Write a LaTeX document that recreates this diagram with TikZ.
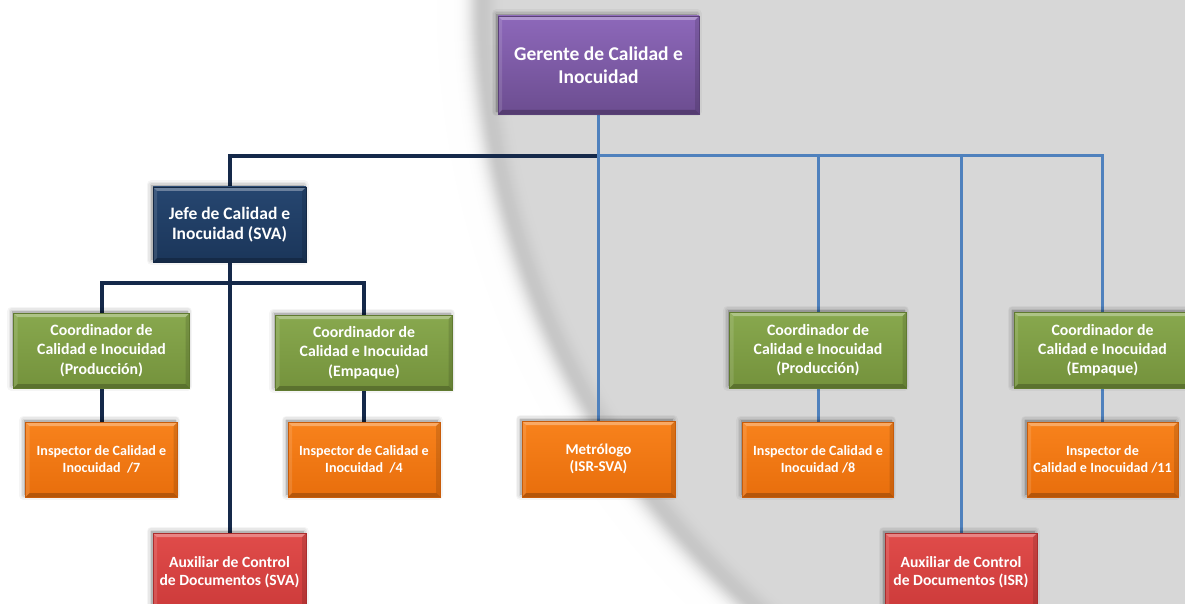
\documentclass[tikz,border=0pt]{standalone}
\usepackage{fontspec}
\setmainfont{Carlito}
\usetikzlibrary{shadows}

\definecolor{navyline}{HTML}{15294A}
\definecolor{blueline}{HTML}{4F81BD}

\pgfdeclarelayer{back}
\pgfdeclarelayer{conn}
\pgfsetlayers{back,conn,main}

\tikzset{
  bevel/.style={path picture={
    \path (path picture bounding box.north west) coordinate (bNW)
          (path picture bounding box.north east) coordinate (bNE)
          (path picture bounding box.south west) coordinate (bSW)
          (path picture bounding box.south east) coordinate (bSE);
    \fill[white,opacity=.32] (bNW) -- (bNE) -- ([xshift=-4pt,yshift=-4pt]bNE) -- ([xshift=4pt,yshift=-4pt]bNW) -- cycle;
    \fill[white,opacity=.12] (bNW) -- ([xshift=4pt,yshift=-4pt]bNW) -- ([xshift=4pt,yshift=4pt]bSW) -- (bSW) -- cycle;
    \fill[black,opacity=.12] (bNE) -- ([xshift=-4pt,yshift=-4pt]bNE) -- ([xshift=-4pt,yshift=4pt]bSE) -- (bSE) -- cycle;
    \fill[black,opacity=.22] (bSW) -- (bSE) -- ([xshift=-4pt,yshift=4pt]bSE) -- ([xshift=4pt,yshift=4pt]bSW) -- cycle;
  }},
  % layered strokes give the box shadow a soft edge
  softshadow/.style={
    general shadow={fill=black, draw=black, line width=9pt, line join=round, opacity=.04, shadow xshift=-2pt, shadow yshift=2pt},
    general shadow={fill=black, draw=black, line width=6pt, line join=round, opacity=.05, shadow xshift=-2pt, shadow yshift=2pt},
    general shadow={fill=black, draw=black, line width=3pt, line join=round, opacity=.07, shadow xshift=-2pt, shadow yshift=2pt}},
  orgbox/.style={softshadow, bevel, line width=.6pt, inner sep=0pt,
    text=white, align=center, font=\bfseries},
  purplebox/.style={orgbox, top color={rgb,255:red,141;green,104;blue,186},
    bottom color={rgb,255:red,108;green,77;blue,144}, draw={rgb,255:red,90;green,64;blue,120}},
  navybox/.style={orgbox, top color={rgb,255:red,38;green,70;blue,112},
    bottom color={rgb,255:red,27;green,54;blue,90}, draw={rgb,255:red,20;green,40;blue,68}},
  greenbox/.style={orgbox, top color={rgb,255:red,136;green,168;blue,78},
    bottom color={rgb,255:red,116;green,146;blue,60}, draw={rgb,255:red,96;green,122;blue,48}},
  orangebox/.style={orgbox, top color={rgb,255:red,248;green,130;blue,28},
    bottom color={rgb,255:red,232;green,110;blue,12}, draw={rgb,255:red,200;green,92;blue,10}},
  redbox/.style={orgbox, top color={rgb,255:red,224;green,76;blue,74},
    bottom color={rgb,255:red,204;green,58;blue,58}, draw={rgb,255:red,170;green,45;blue,45}},
  navyconn/.style={draw=navyline, line width=4pt},
  blueconn/.style={draw=blueline, line width=3pt},
  fgerente/.style={font=\fontsize{19.5pt}{23.3pt}\selectfont\bfseries},
  fjefe/.style={font=\fontsize{17.5pt}{19.5pt}\selectfont\bfseries},
  fcoord/.style={font=\fontsize{15.8pt}{19.3pt}\selectfont\bfseries},
  finsp/.style={font=\fontsize{14.1pt}{17.2pt}\selectfont\bfseries},
  fmetro/.style={font=\fontsize{15pt}{16.8pt}\selectfont\bfseries},
  faux/.style={font=\fontsize{15.6pt}{18.5pt}\selectfont\bfseries},
}

\begin{document}
\begin{tikzpicture}[x=1pt,y=-1pt]
\useasboundingbox (0,0) rectangle (1185,604);

% backdrop: white page with a large grey disc and a soft shadowed rim
\begin{pgfonlayer}{back}
  \fill[white] (0,0) rectangle (1185,604);
  \coordinate (disc) at (1294,0);
  \foreach \d in {45,44,...,-35} {
    \pgfmathtruncatemacro\g{\d>0 ? 255-56*exp(0-(\d/14)*(\d/14)) : 216-17*exp(0-(\d/12)*(\d/12))}
    \fill[fill={rgb,255:red,\g;green,\g;blue,\g}] (disc) circle[radius={812pt+(\d)*1pt}];
  }
\end{pgfonlayer}

% chart boxes
\node[purplebox, fgerente, minimum width=201pt, minimum height=98pt] (ger) at (598.5,65) {Gerente de Calidad e\\Inocuidad};
\node[navybox, fjefe, minimum width=153pt, minimum height=75pt] (jefe) at (229.5,224.5) {Jefe de Calidad e\\Inocuidad (SVA)};

\node[greenbox, fcoord, minimum width=176pt, minimum height=75pt] (cp1) at (101.5,350.5) {Coordinador de\\Calidad e Inocuidad\\(Producción)};
\node[greenbox, fcoord, minimum width=177pt, minimum height=75pt] (ce1) at (364,352.5) {Coordinador de\\Calidad e Inocuidad\\(Empaque)};
\node[orangebox, finsp, minimum width=152pt, minimum height=75pt] (i7) at (101.5,459.5) {Inspector de Calidad e\\Inocuidad\ \ /7};
\node[orangebox, finsp, minimum width=152pt, minimum height=75pt] (i4) at (364,459.5) {Inspector de Calidad e\\Inocuidad\ \ /4};

\node[orangebox, fmetro, minimum width=153pt, minimum height=76pt] (met) at (598.5,459) {Metrólogo\\(ISR-SVA)};

\node[greenbox, fcoord, minimum width=177pt, minimum height=76pt] (cp2) at (818,350) {Coordinador de\\Calidad e Inocuidad\\(Producción)};
\node[greenbox, fcoord, minimum width=177pt, minimum height=76pt] (ce2) at (1102.5,350) {Coordinador de\\Calidad e Inocuidad\\(Empaque)};
\node[orangebox, finsp, minimum width=151pt, minimum height=75pt] (i8) at (818,459.5) {Inspector de Calidad e\\Inocuidad /8};
\node[orangebox, finsp, minimum width=151pt, minimum height=75pt] (i11) at (1102.5,459.5) {Inspector de\\Calidad e Inocuidad /11};

\node[redbox, faux, minimum width=153pt, minimum height=78pt] (aux1) at (229.5,572) {Auxiliar de Control\\de Documentos (SVA)};
\node[redbox, faux, minimum width=152pt, minimum height=78pt] (aux2) at (961,572) {Auxiliar de Control\\de Documentos (ISR)};

% connectors
\begin{pgfonlayer}{conn}
  \coordinate (bus) at (598.5,156);
  \coordinate (sub) at (229.5,283);
  \draw[navyconn] (jefe.north) |- (bus);
  \draw[navyconn] (jefe.south) -- (aux1.north);
  \draw[navyconn] (sub) -| (cp1.north);
  \draw[navyconn] (sub) -| (ce1.north);
  \draw[navyconn] (cp1.south) -- (i7.north);
  \draw[navyconn] (ce1.south) -- (i4.north);
  \draw[blueconn] (ger.south) -- (met.north);
  \draw[blueconn] (bus) -| (cp2.north);
  \draw[blueconn] (bus) -| (aux2.north);
  \draw[blueconn] (bus) -| (ce2.north);
  \draw[blueconn] (cp2.south) -- (i8.north);
  \draw[blueconn] (ce2.south) -- (i11.north);
\end{pgfonlayer}
\end{tikzpicture}
\end{document}
